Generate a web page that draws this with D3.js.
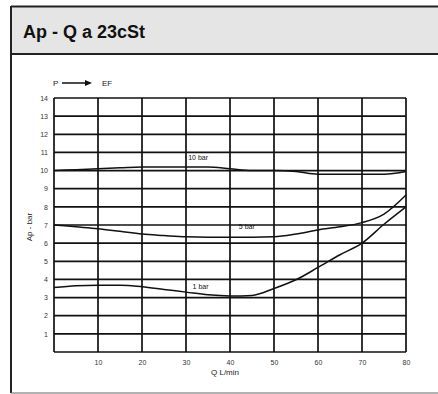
<!DOCTYPE html>
<html>
<head>
<meta charset="utf-8">
<script src="https://cdn.jsdelivr.net/npm/d3@7"></script>
<style>
  body { margin: 0; background: #fff; }
  svg { display: block; font-family: "Liberation Sans", Arial, sans-serif; }
</style>
</head>
<body>
<div id="chart"></div>
<script>
// flow points (L/min) shared by all three curves
const flow = [0, 5, 10, 15, 20, 25, 30, 35, 40, 45, 50, 55, 60, 65, 70, 75, 80];
// pressure drop (bar)
const dpTop = [10.0, 10.05, 10.1, 10.15, 10.2, 10.2, 10.2, 10.2, 10.1, 10.0, 10.0, 9.95, 9.8, 9.8, 9.8, 9.8, 9.95];
const dpMid = [7.0, 6.9, 6.8, 6.65, 6.5, 6.42, 6.35, 6.33, 6.33, 6.33, 6.35, 6.5, 6.73, 6.9, 7.13, 7.6, 8.65];
const dpLow = [3.55, 3.65, 3.68, 3.68, 3.6, 3.45, 3.3, 3.15, 3.09, 3.12, 3.5, 3.98, 4.66, 5.36, 6.0, 7.04, 8.0];
const curveNames = ['10 bar', '5 bar', '1 bar'];
const xTicks = [0, 10, 20, 30, 40, 50, 60, 70, 80];
const yTicks = [0, 1, 2, 3, 4, 5, 6, 7, 8, 9, 10, 11, 12, 13, 14];

const W = 438, H = 394;
const svg = d3.select('#chart').append('svg').attr('width', W).attr('height', H);

// card frame + title bar (no right edge, it runs off the picture)
svg.append('rect').attr('x', 12).attr('y', 7).attr('width', 426).attr('height', 47)
  .attr('fill', '#e5e5e5');
svg.append('line').attr('x1', 11).attr('x2', 438).attr('y1', 6.5).attr('y2', 6.5)
  .attr('stroke', '#222').attr('stroke-width', 2);
svg.append('line').attr('x1', 11).attr('x2', 11).attr('y1', 6).attr('y2', 393)
  .attr('stroke', '#222').attr('stroke-width', 2);
svg.append('line').attr('x1', 11).attr('x2', 438).attr('y1', 54).attr('y2', 54)
  .attr('stroke', '#222').attr('stroke-width', 2);
svg.append('line').attr('x1', 11).attr('x2', 438).attr('y1', 393).attr('y2', 393)
  .attr('stroke', '#666').attr('stroke-width', 1);
svg.append('text').attr('x', 23).attr('y', 38)
  .attr('font-size', 18).attr('font-weight', 'bold').attr('fill', '#111')
  .text('Ap - Q a 23cSt');

const margin = {left: 54, right: 406, top: 98, bottom: 352};
const x = d3.scaleLinear().domain([0, 80]).range([margin.left, margin.right]);
const y = d3.scaleLinear().domain([0, 14]).range([margin.bottom, margin.top]);

const g = svg.append('g');

// grid
g.selectAll('.vg').data(xTicks).enter().append('line')
  .attr('x1', d => x(d)).attr('x2', d => x(d))
  .attr('y1', y(14)).attr('y2', y(0))
  .attr('stroke', '#111').attr('stroke-width', 1.7);
g.selectAll('.hg').data(yTicks).enter().append('line')
  .attr('x1', x(0)).attr('x2', x(80))
  .attr('y1', d => y(d)).attr('y2', d => y(d))
  .attr('stroke', '#111').attr('stroke-width', 1.7);

// axes (labels only, the grid draws the lines)
const xAxis = g.append('g').attr('transform', 'translate(0,' + y(0) + ')')
  .call(d3.axisBottom(x).tickValues(xTicks.slice(1)).tickSize(0).tickPadding(8));
const yAxis = g.append('g').attr('transform', 'translate(' + x(0) + ',0)')
  .call(d3.axisLeft(y).tickValues(yTicks.slice(1)).tickSize(0).tickPadding(6));
[xAxis, yAxis].forEach(a => {
  a.select('.domain').remove();
  a.selectAll('text').attr('font-size', 7).attr('fill', '#333')
    .attr('font-family', '"Liberation Sans", Arial, sans-serif');
});

// axis titles
svg.append('text').attr('x', 225).attr('y', 375).attr('text-anchor', 'middle')
  .attr('font-size', 8).attr('fill', '#222').text('Q L/min');
svg.append('text').attr('transform', 'translate(32,227) rotate(-90)')
  .attr('text-anchor', 'middle').attr('font-size', 8).attr('fill', '#222').text('Ap - bar');

// curves
const line = d3.line().x((d, i) => x(flow[i])).y(d => y(d)).curve(d3.curveMonotoneX);
[dpTop, dpMid, dpLow].forEach(s => {
  g.append('path').datum(s).attr('d', line)
    .attr('fill', 'none').attr('stroke', '#111').attr('stroke-width', 1.5);
});

// curve labels
const labelPos = [[30.5, 10.6], [42, 6.8], [31.5, 3.5]];
curveNames.forEach((n, i) => {
  g.append('text').attr('x', x(labelPos[i][0])).attr('y', y(labelPos[i][1]))
    .attr('font-size', 7).attr('fill', '#111').text(n);
});

// legend: P -> EF
const lg = svg.append('g');
lg.append('text').attr('x', 53).attr('y', 86).attr('font-size', 8).attr('fill', '#222').text('P');
lg.append('line').attr('x1', 62).attr('x2', 86).attr('y1', 83).attr('y2', 83)
  .attr('stroke', '#111').attr('stroke-width', 1.5);
lg.append('path').attr('d', 'M85,80 L92,83 L85,86 Z').attr('fill', '#111');
lg.append('text').attr('x', 102).attr('y', 86).attr('font-size', 8).attr('fill', '#222').text('EF');
</script>
</body>
</html>
